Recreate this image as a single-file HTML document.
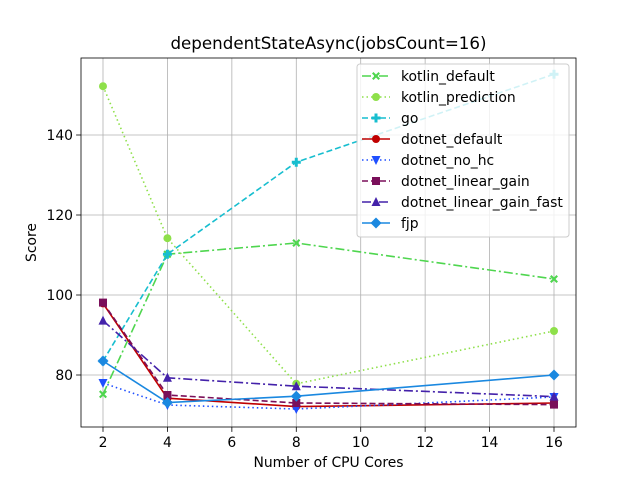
<!DOCTYPE html>
<html><head><meta charset="utf-8"><style>
body{margin:0;background:#fff;font-family:"Liberation Sans","DejaVu Sans",sans-serif;}
svg text{font-family:"DejaVu Sans","Liberation Sans",sans-serif;}
</style></head><body>
<svg id="chart" width="640" height="480" xmlns="http://www.w3.org/2000/svg"></svg>
<script>
const xCats=[2,4,8,16];
const kotlinDefault=[75.2,110.2,113,104];
const kotlinPrediction=[152.2,114.2,77.8,91];
const goVals=[83.5,110.2,133.2,155.2];
const dotnetDefault=[97.9,74.2,72.1,73];
const dotnetNoHc=[78,72.5,71.5,74.5];
const dotnetLinearGain=[98.1,75,73,72.6];
const dotnetLinearGainFast=[93.6,79.3,77.2,74.6];
const fjpVals=[83.5,73.1,74.7,80];
const xTicks=[2,4,6,8,10,12,14,16];
const yTicks=[80,100,120,140];
const seriesNames=["kotlin_default","kotlin_prediction","go","dotnet_default","dotnet_no_hc","dotnet_linear_gain","dotnet_linear_gain_fast","fjp"];

const L=81,R=576,T=58,B=427;
const X=v=>103+(v-2)*(554-103)/14;
const Y=v=>375-(v-80)*4;
const svg=document.getElementById('chart');
const NS='http://www.w3.org/2000/svg';
function mk(t,a,p){const e=document.createElementNS(NS,t);for(const k in a)e.setAttribute(k,a[k]);(p||svg).appendChild(e);return e;}

xTicks.forEach(t=>{const g=mk('line',{x1:X(t),x2:X(t),y1:T,y2:B,stroke:'#b0b0b0','stroke-width':0.8});

const tk=mk('line',{x1:X(t),x2:X(t),y1:B,y2:B+4.9,stroke:'#000','stroke-width':0.8});

const tx=mk('text',{x:X(t),y:B+20,'text-anchor':'middle','font-size':13.9});tx.textContent=t;
});
yTicks.forEach(t=>{const g=mk('line',{x1:L,x2:R,y1:Y(t),y2:Y(t),stroke:'#b0b0b0','stroke-width':0.8});

const tk=mk('line',{x1:L-4.9,x2:L,y1:Y(t),y2:Y(t),stroke:'#000','stroke-width':0.8});

const tx=mk('text',{x:L-8,y:Y(t)+5,'text-anchor':'end','font-size':13.9});tx.textContent=t;
});

const styles=[
 {d:kotlinDefault,c:'#4fd64f',dash:'9,3,2,3',m:'x'},
 {d:kotlinPrediction,c:'#8ee04a',dash:'1.5,3',m:'o'},
 {d:goVals,c:'#17becf',dash:'6,3',m:'P'},
 {d:dotnetDefault,c:'#c00000',dash:'',m:'o'},
 {d:dotnetNoHc,c:'#1f4fff',dash:'1.5,3',m:'v'},
 {d:dotnetLinearGain,c:'#7a0f5a',dash:'6,3',m:'s'},
 {d:dotnetLinearGainFast,c:'#4422aa',dash:'9,3,2,3',m:'^'},
 {d:fjpVals,c:'#1a88e0',dash:'',m:'D'}];
function marker(g,m,x,y,c){
 const s=4;
 if(m==='o')return mk('circle',{cx:x,cy:y,r:s,fill:c},g);
 if(m==='s')return mk('rect',{x:x-s,y:y-s,width:2*s,height:2*s,fill:c},g);
 if(m==='D')return mk('polygon',{points:`${x},${y-5.5} ${x+5.5},${y} ${x},${y+5.5} ${x-5.5},${y}`,fill:c},g);
 if(m==='^')return mk('polygon',{points:`${x},${y-s-1} ${x+s+0.5},${y+s} ${x-s-0.5},${y+s}`,fill:c},g);
 if(m==='v')return mk('polygon',{points:`${x},${y+s+1} ${x+s+0.5},${y-s} ${x-s-0.5},${y-s}`,fill:c},g);
 if(m==='P')return mk('path',{d:`M${x-1.5},${y-4.5}h3v3h3v3h-3v3h-3v-3h-3v-3h3z`,fill:c},g);
 return mk('path',{d:`M${x-4},${y-2.5}l1.5,-1.5l2.5,2.5l2.5,-2.5l1.5,1.5l-2.5,2.5l2.5,2.5l-1.5,1.5l-2.5,-2.5l-2.5,2.5l-1.5,-1.5l2.5,-2.5z`,fill:c},g);
}
styles.forEach((s,i)=>{
 const g=mk('g',{});
 
 
 const pts=s.d.map((v,j)=>X(xCats[j])+','+Y(v)).join(' ');
 mk('polyline',{points:pts,fill:'none',stroke:s.c,'stroke-width':1.6,'stroke-dasharray':s.dash},g);
 s.d.forEach((v,j)=>{const p=marker(g,s.m,X(xCats[j]),Y(v),s.c);
  });
});
const fr=mk('rect',{x:L,y:T,width:R-L,height:B-T,fill:'none',stroke:'#000','stroke-width':0.8});

let t=mk('text',{x:(L+R)/2,y:49,'text-anchor':'middle','font-size':16.7});t.textContent='dependentStateAsync(jobsCount=16)';

t=mk('text',{x:(L+R)/2,y:467,'text-anchor':'middle','font-size':13.9});t.textContent='Number of CPU Cores';

t=mk('text',{x:0,y:0,'text-anchor':'middle','font-size':13.9,transform:`translate(36,${(T+B)/2}) rotate(-90)`});t.textContent='Score';

const lg=mk('g',{});

mk('rect',{x:357,y:64,width:212,height:173,rx:3,fill:'#fff','fill-opacity':0.8,stroke:'#ccc'},lg);
styles.forEach((s,i)=>{
 const y=76+i*21;
 const e=mk('g',{},lg);
 
 mk('line',{x1:362,x2:390,y1:y,y2:y,stroke:s.c,'stroke-width':1.6,'stroke-dasharray':s.dash},e);
 marker(e,s.m,376,y,s.c);
 const tx=mk('text',{x:401,y:y+5,'font-size':13.9},e);tx.textContent=seriesNames[i];
});
</script>
</body></html>
